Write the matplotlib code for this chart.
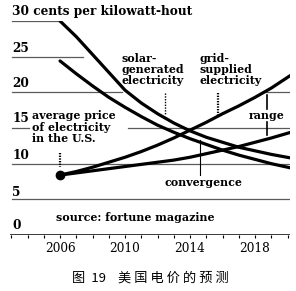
import matplotlib
matplotlib.use("Agg")
import matplotlib.pyplot as plt
import numpy as np

# data (cents per kWh)
years = [2006, 2007, 2008, 2009, 2010, 2011, 2012, 2013, 2014, 2015, 2016,
         2017, 2018, 2019, 2020.2]
solar_high = [30.0, 27.8, 25.3, 22.8, 20.3, 18.5, 17.0, 15.7, 14.6, 13.7,
              13.0, 12.3, 11.8, 11.3, 10.8]
solar_low = [24.4, 22.6, 20.9, 19.3, 17.9, 16.6, 15.4, 14.4, 13.5, 12.7,
             11.9, 11.2, 10.6, 10.0, 9.4]
grid_high = [8.4, 8.9, 9.5, 10.2, 10.9, 11.7, 12.6, 13.6, 14.7, 15.8, 17.0,
             18.1, 19.3, 20.6, 22.4]
grid_low = [8.4, 8.7, 9.0, 9.3, 9.6, 9.9, 10.2, 10.5, 10.9, 11.4, 11.9,
            12.4, 13.0, 13.6, 14.4]

year_ticks = [2006, 2010, 2014, 2018]
value_ticks = [0, 5, 10, 15, 20, 25, 30]

SERIF = "DejaVu Serif"
FS = 7.9
FS_AXIS = 8.7

fig = plt.figure(figsize=(2.96, 2.91), dpi=100)
ax = fig.add_axes([10 / 296, 56 / 291, 280 / 296, 214 / 291])
ax.set_xlim(2002.92, 2020.15)
ax.set_ylim(0, 30)
for s in ax.spines.values():
    s.set_visible(False)
ax.set_yticks([])

# partial gridlines (x ranges in years)
grid_color = "#5a5a5a"
x0 = 2003.05
segs = {
    30: [(x0, 2006.0)],
    25: [(x0, 2007.4)],
    20: [(x0, 2009.8), (2018.6, 2020.15)],
    15: [(x0, 2004.1), (2010.2, 2020.15)],
    10: [(x0, 2020.15)],
    5: [(x0, 2020.15)],
}
for v, parts in segs.items():
    for a, b in parts:
        ax.plot([a, b], [v, v], color=grid_color, lw=0.9, zorder=1)

# x axis
ax.axhline(0, color="black", lw=1.8, zorder=2)
ax.set_xticks(year_ticks)
ax.set_xticklabels([str(y) for y in year_ticks], fontsize=FS_AXIS,
                   family=SERIF)
ax.set_xticks(np.arange(2003, 2021), minor=True)
ax.tick_params(axis="x", which="both", length=2, width=0.8, pad=3,
               direction="out", colors="black")

# value labels
label_y = {30: 31.3, 25: 26.2, 20: 21.2, 15: 16.3, 10: 11.2, 5: 6.0, 0: 1.3}
for v in value_ticks:
    txt = "30 cents per kilowatt-hout" if v == 30 else str(v)
    ax.text(x0, label_y[v], txt, fontsize=FS_AXIS, family=SERIF,
            fontweight="bold", va="center", ha="left", clip_on=False)

# the four lines
for ys in (solar_high, solar_low, grid_high, grid_low):
    ax.plot(years, ys, color="black", lw=2.3, solid_capstyle="round",
            solid_joinstyle="round", zorder=4)
ax.plot([2006], [8.4], "o", color="black", ms=6, zorder=5)

# annotations
ax.text(2009.8, 25.5, "solar-\ngenerated\nelectricity", fontsize=FS,
        family=SERIF, fontweight="bold", va="top", ha="left", linespacing=1.0)
ax.plot([2012.46, 2012.46], [19.9, 16.8], color="black", lw=1.0, ls=(0, (1, 1)))

ax.text(2014.6, 25.5, "grid-\nsupplied\nelectricity", fontsize=FS,
        family=SERIF, fontweight="bold", va="top", ha="left", linespacing=1.0)
ax.plot([2015.72, 2015.72], [19.9, 16.5], color="black", lw=1.6, ls=(0, (0.6, 0.6)))

ax.text(2004.3, 17.5, "average price\nof electricity\nin the U.S.", fontsize=FS,
        family=SERIF, fontweight="bold", va="top", ha="left", linespacing=1.05)
ax.plot([2006, 2006], [11.5, 9.5], color="black", lw=1.6, ls=(0, (0.6, 0.6)))

ax.text(2018.74, 16.8, "range", fontsize=FS, family=SERIF, fontweight="bold",
        va="center", ha="center")
ax.plot([2018.74, 2018.74], [19.6, 17.7], color="black", lw=1.2)
ax.plot([2018.74, 2018.74], [15.9, 14.0], color="black", lw=1.2)

ax.plot([2014.62, 2014.62], [13.3, 8.4], color="black", lw=0.8)
ax.text(2014.8, 7.3, "convergence", fontsize=FS, family=SERIF,
        fontweight="bold", va="center", ha="center")

ax.text(2010.6, 2.4, "source: fortune magazine", fontsize=FS, family=SERIF,
        fontweight="bold", va="center", ha="center")

fig.text(150 / 296, 1 - 278 / 291, "图  19    美 国 电 价 的 预 测", fontsize=9.5,
         family=["Noto Sans CJK SC", "DejaVu Sans"], ha="center", va="center")

fig.savefig("out.png", dpi=100)
